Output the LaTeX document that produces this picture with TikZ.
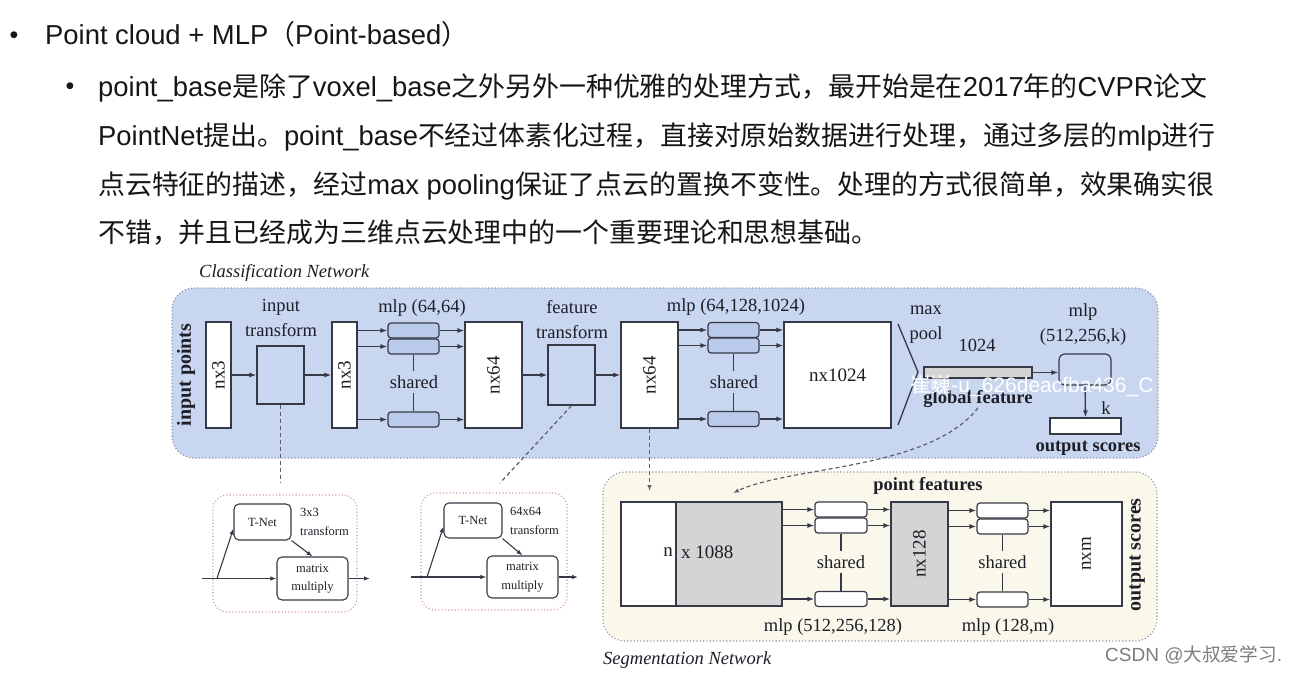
\documentclass[tikz,border=0pt]{standalone}
\usepackage{fontspec}
\setmainfont{Liberation Sans}
\newfontfamily\cjk{Noto Sans CJK SC}[Scale=0.982]
\newfontfamily\dgserif{Liberation Serif}
\usetikzlibrary{arrows.meta,calc}
\newcommand\zh[1]{{\cjk #1}}
\newcommand\FBig{\fontsize{27.4}{30}\selectfont}
\newcommand\FBox{\dgserif\fontsize{19}{21}\selectfont}
\newcommand\FLab{\dgserif\fontsize{18.5}{25}\selectfont}
\newcommand\FBold{\dgserif\bfseries\fontsize{18.5}{21}\selectfont}
\newcommand\FBoldL{\dgserif\bfseries\fontsize{20}{22}\selectfont}
\newcommand\FItal{\dgserif\itshape\fontsize{18.5}{21}\selectfont}
\newcommand\FSmall{\dgserif\fontsize{12.5}{18.5}\selectfont}
\definecolor{clsblue}{RGB}{200,214,240}
\definecolor{mlpblue}{RGB}{186,202,234}
\definecolor{segc}{RGB}{250,248,234}
\definecolor{grayc}{RGB}{212,212,212}
\definecolor{linec}{RGB}{55,58,70}
\definecolor{regc}{RGB}{140,145,160}
\definecolor{pinkc}{RGB}{205,150,185}
\definecolor{dashc}{RGB}{90,95,110}
\definecolor{txtc}{RGB}{22,22,22}
\definecolor{dgtxt}{RGB}{30,30,40}
\definecolor{csdnc}{RGB}{125,125,125}
\tikzset{
  reg/.style={draw=regc, line width=1.1pt, dash pattern=on 1.1pt off 2.2pt, rounded corners=22pt, inner sep=0},
  wbox/.style={draw=linec, line width=1.2pt, fill=white, inner sep=0, font=\FBox, text=dgtxt},
  gbox/.style={wbox, fill=grayc},
  mbox/.style={draw=linec, line width=1.2pt, rounded corners=3pt, fill=mlpblue, minimum width=51pt, minimum height=15pt, inner sep=0},
  mboxw/.style={mbox, fill=white},
  tbox/.style={draw=linec, line width=1.1pt, rounded corners=5pt, fill=white, inner sep=0, font=\FSmall, text=dgtxt, align=center},
  lab/.style={font=\FLab, inner sep=0, align=center, text=dgtxt},
  shr/.style={font=\FLab, inner sep=4pt, text=dgtxt},
  arr/.style={draw=linec, line width=1.3pt, -{Latex[length=7pt,width=5pt]}},
  arrs/.style={draw=linec, line width=1.1pt, -{Latex[length=6pt,width=4.5pt]}},
  ln/.style={draw=linec, line width=1.3pt},
  dsh/.style={draw=dashc, line width=1.2pt, dash pattern=on 4pt off 3pt},
  para/.style={anchor=base west, inner sep=0, font=\FBig, text=txtc},
  bul/.style={anchor=base, inner sep=0, font=\fontsize{25}{25}\selectfont, text=txtc},
}
\begin{document}
\begin{tikzpicture}[x=1pt,y=-1pt]
\path[use as bounding box, fill=white] (0,0) rectangle (1297,674);

% ---------- text ----------
\node[bul] (bul1) at (14,44) {•};
\node[para] (title) at (45,45) {Point cloud + MLP\zh{（}Point-based\zh{）}};
\node[bul] (bul2) at (70,95) {•};
\node[para] (l1) at (98,97) {point\_base\zh{是除了}voxel\_base\zh{之外另外一种优雅的处理方式，最开始是在}2017\zh{年的}CVPR\zh{论文}};
\node[para] (l2) at (98,145.5) {PointNet\zh{提出。}point\_base\zh{不经过体素化过程，直接对原始数据进行处理，通过多层的}mlp\zh{进行}};
\node[para] (l3) at (98,194) {\zh{点云特征的描述，经过}max pooling\zh{保证了点云的置换不变性。处理的方式很简单，效果确实很}};
\node[para] (l4) at (98,242.5) {\zh{不错，并且已经成为三维点云处理中的一个重要理论和思想基础。}};

% ---------- regions ----------
\node[reg, fill=clsblue, minimum width=986pt, minimum height=170pt] (cls) at (665,373) {};
\node[anchor=base west, font=\FItal, inner sep=0, text=dgtxt] (clsl) at (199,277) {Classification Network};
\node[reg, fill=segc, minimum width=554pt, minimum height=169pt] (seg) at (880,556.5) {};
\node[anchor=base west, font=\FItal, inner sep=0, text=dgtxt] (segl) at (603,664) {Segmentation Network};
\node[reg, draw=pinkc, rounded corners=14pt, minimum width=144pt, minimum height=117pt] (tb1) at (285,553.5) {};
\node[reg, draw=pinkc, rounded corners=14pt, minimum width=146pt, minimum height=117pt] (tb2) at (494,551.5) {};

% ---------- classification network ----------
\node[rotate=90, font=\FBoldL, inner sep=0, text=dgtxt] (inp) at (186,375) {input points};
\node[wbox, minimum width=25pt, minimum height=106pt] (nx3a) at (218.5,375) {\rotatebox{90}{nx3}};
\node[wbox, fill=clsblue, minimum width=47pt, minimum height=58pt] (itf) at (280.5,375) {};
\node[lab] (itfl) at (281,318) {input\\transform};
\node[wbox, minimum width=25pt, minimum height=106pt] (nx3b) at (344.5,375) {\rotatebox{90}{nx3}};
\node[mbox] (m1a) at (413.5,330.5) {};
\node[mbox] (m1b) at (413.5,346.5) {};
\node[mbox] (m1c) at (413.5,419.5) {};
\node[shr] (sh1) at (414,382) {shared};
\node[lab] (mlp1) at (422,308) {mlp (64,64)};
\node[wbox, minimum width=57pt, minimum height=106pt] (nx64a) at (493.5,375) {\rotatebox{90}{nx64}};
\node[wbox, fill=clsblue, minimum width=47pt, minimum height=60pt] (ftf) at (571.5,375) {};
\node[lab] (ftfl) at (572,320) {feature\\transform};
\node[wbox, minimum width=57pt, minimum height=106pt] (nx64b) at (649.5,375) {\rotatebox{90}{nx64}};
\node[mbox] (m2a) at (733.5,330) {};
\node[mbox] (m2b) at (733.5,345.5) {};
\node[mbox] (m2c) at (733.5,419) {};
\node[shr] (sh2) at (734,382) {shared};
\node[lab] (mlp2) at (736,307) {mlp (64,128,1024)};
\node[wbox, minimum width=107pt, minimum height=106pt] (nx1024) at (837.5,375) {nx1024};
\coordinate (mpa) at (898,324);
\coordinate (mpb) at (918,372);
\coordinate (mpc) at (898,425);
\draw[ln] (mpa) -- (mpb) -- (mpc);
\node[lab] (mpl) at (926,325) {max\\pool};
\node[lab] (n1024) at (977,345) {1024};
\node[gbox, minimum width=108pt, minimum height=11pt] (gf) at (978,372.5) {};
\node[lab, font=\FBold] (gfl) at (978,399) {global feature};
\node[draw=linec, line width=1.2pt, rounded corners=6pt, fill=clsblue, minimum width=52pt, minimum height=31pt, inner sep=0] (mlp3) at (1085,369.5) {};
\node[lab] (mlp3l) at (1083,325) {mlp\\(512,256,k)};
\node[wbox, minimum width=71pt, minimum height=16pt] (outs) at (1085.5,426) {};
\node[lab] (kl) at (1106,408) {k};
\node[lab, font=\FBold] (outl) at (1088,448) {output scores};

\draw[arr] (nx3a.east) -- (itf.west);
\draw[arr] (itf.east) -- (nx3b.west);
\foreach \m in {m1a,m1b,m1c}{
  \draw[arr] (nx3b.east |- \m.west) -- (\m.west);
  \draw[arr] (\m.east) -- (nx64a.west |- \m.east);
}
\draw[ln] (m1b.south) -- (m1b.south |- sh1.north);
\draw[ln] (m1c.north |- sh1.south) -- (m1c.north);
\draw[arr] (nx64a.east) -- (ftf.west);
\draw[arr] (ftf.east) -- (nx64b.west);
\foreach \m in {m2a,m2b,m2c}{
  \draw[arr] (nx64b.east |- \m.west) -- (\m.west);
  \draw[arr] (\m.east) -- (nx1024.west |- \m.east);
}
\draw[ln] (m2b.south) -- (m2b.south |- sh2.north);
\draw[ln] (m2c.north |- sh2.south) -- (m2c.north);
\draw[arr] (gf.east) -- (mlp3.west |- gf.east);
\draw[arr] (mlp3.south) -- (outs.north);

% ---------- segmentation network ----------
\node[wbox, minimum width=55pt, minimum height=104pt] (bw) at (648.5,554) {};
\node[gbox, minimum width=106pt, minimum height=104pt] (bg) at (729,554) {};
\node[lab, font=\FBox, anchor=east] (nl) at (673,552) {n};
\node[lab, font=\FBox, anchor=west] (xl) at (681,552) {x 1088};
\node[mboxw, minimum width=52pt] (s1a) at (841,509.5) {};
\node[mboxw, minimum width=52pt] (s1b) at (841,525.5) {};
\node[mboxw, minimum width=52pt] (s1c) at (841,599) {};
\node[shr] (sh3) at (841,562) {shared};
\node[gbox, minimum width=57pt, minimum height=104pt] (nx128) at (919.5,554) {\rotatebox{90}{nx128}};
\node[lab, font=\FBold] (pf) at (928,486) {point features};
\node[lab] (mlp4) at (833,627) {mlp (512,256,128)};
\node[mboxw] (s2a) at (1002.5,510.5) {};
\node[mboxw] (s2b) at (1002.5,526.5) {};
\node[mboxw] (s2c) at (1002.5,599.5) {};
\node[shr] (sh4) at (1002.5,562) {shared};
\node[wbox, minimum width=71pt, minimum height=104pt] (nxm) at (1086.5,554) {\rotatebox{90}{nxm}};
\node[rotate=90, font=\FBoldL, inner sep=0, text=dgtxt] (osl) at (1137,555) {output scores};
\node[lab] (mlp5) at (1008,627) {mlp (128,m)};

\foreach \m in {s1a,s1b,s1c}{
  \draw[arr] (bg.east |- \m.west) -- (\m.west);
  \draw[arr] (\m.east) -- (nx128.west |- \m.east);
}
\draw[ln] (s1b.south) -- (s1b.south |- sh3.north);
\draw[ln] (s1c.north |- sh3.south) -- (s1c.north);
\foreach \m in {s2a,s2b,s2c}{
  \draw[arr] (nx128.east |- \m.west) -- (\m.west);
  \draw[arr] (\m.east) -- (nxm.west |- \m.east);
}
\draw[ln] (s2b.south) -- (s2b.south |- sh4.north);
\draw[ln] (s2c.north |- sh4.south) -- (s2c.north);

% ---------- dashed links ----------
\coordinate (d1) at (649.5,491);
\draw[dsh, -{Latex[length=6pt,width=4.5pt]}] (nx64b.south) -- (d1);
\coordinate (d2) at (733,493);
\draw[dsh, -{Latex[length=6pt,width=4.5pt]}] (gfl.south) .. controls (930,470) and (790,466) .. (d2);
\coordinate (d3) at (280.5,482);
\draw[dsh] (itf.south) -- (d3);
\coordinate (d4) at (500,483);
\draw[dsh] (ftf.south) -- (d4);

% ---------- T-Net modules ----------
\node[tbox, minimum width=57pt, minimum height=36pt] (tn1) at (262.5,522) {T-Net};
\node[tbox, minimum width=71pt, minimum height=43pt] (mm1) at (312.5,578.5) {matrix\\multiply};
\node[anchor=west, font=\FSmall, align=left, inner sep=0, text=dgtxt] (tl1) at (300,522) {3x3\\transform};
\coordinate (i1) at (202,578.5);
\coordinate (j1) at (217,578.5);
\coordinate (o1) at (370,578.5);
\draw[arrs] (i1) -- (mm1.west);
\draw[arrs] (j1) -- ($(tn1.south west)+(0,-12)$);
\draw[arrs] (tn1.south east) -- (mm1.north);
\draw[arrs] (mm1.east) -- (o1);

\node[tbox, minimum width=58pt, minimum height=35pt] (tn2) at (473,520.5) {T-Net};
\node[tbox, minimum width=71pt, minimum height=42pt] (mm2) at (522.5,577) {matrix\\multiply};
\node[anchor=west, font=\FSmall, align=left, inner sep=0, text=dgtxt] (tl2) at (510,521) {64x64\\transform};
\coordinate (i2) at (411,577);
\coordinate (j2) at (427,577);
\coordinate (o2) at (578,577);
\draw[arrs] (i2) -- (mm2.west);
\draw[arrs] (j2) -- ($(tn2.south west)+(0,-12)$);
\draw[arrs] (tn2.south east) -- (mm2.north);
\draw[arrs] (mm2.east) -- (o2);

% ---------- watermarks ----------
\node[anchor=west, inner sep=0, text=white, font=\fontsize{21}{21}\selectfont] (wm) at (910,386) {\zh{崔巍}-u\_626deacfba436\_C};
\node[anchor=west, inner sep=0, text=csdnc, font=\fontsize{19}{19}\selectfont] (csdn) at (1105,655) {CSDN @\zh{大叔爱学习}.};
\end{tikzpicture}
\end{document}
